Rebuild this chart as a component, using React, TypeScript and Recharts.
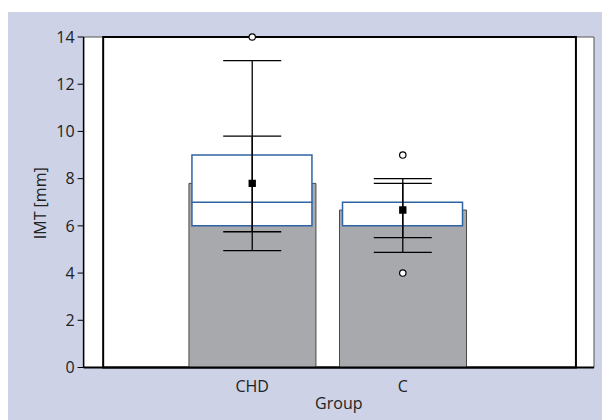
import React from 'react';
import {
  ComposedChart,
  Bar,
  Scatter,
  ErrorBar,
  XAxis,
  YAxis,
  ZAxis,
  ReferenceArea,
  CartesianGrid,
} from 'recharts';

const categories = ['CHD', 'C'];
const means = [7.8, 6.67];
const q1 = [6, 6];
const medians = [7, 7];
const q3 = [9, 7];
const whiskerLow = [4.95, 4.88];
const whiskerHigh = [13.0, 8.0];
const ciLow = [5.75, 5.5];
const ciHigh = [9.8, 7.8];
const outlierGroups = ['CHD', 'C', 'C'];
const outlierValues = [14, 9, 4];
const yTicks = [0, 2, 4, 6, 8, 10, 12, 14];

const X_DOMAIN: [number, number] = [-0.12, 3.27];
const FRAME_X: [number, number] = [0.01, 3.15];

const data = categories.map((c, i) => ({
  x: i + 1,
  name: c,
  mean: means[i],
  boxBase: q1[i],
  boxLower: medians[i] - q1[i],
  boxUpper: q3[i] - medians[i],
  whisker: [means[i] - whiskerLow[i], whiskerHigh[i] - means[i]],
  ci: [means[i] - ciLow[i], ciHigh[i] - means[i]],
}));

const outliers = outlierValues.map((v, i) => ({
  x: categories.indexOf(outlierGroups[i]) + 1,
  y: v,
}));

const FONT = "'Open Sans', 'Noto Sans', sans-serif";
const BOX_BLUE = '#2f64a3';

const YLabel = (props: any) => {
  const vb = props.viewBox || {};
  const cx = vb.x + 32;
  const cy = vb.y + vb.height / 2 + 1;
  return (
    <text
      x={cx}
      y={cy}
      transform={`rotate(-90 ${cx} ${cy})`}
      textAnchor="middle"
      dominantBaseline="central"
      fontFamily={FONT}
      fontSize={16}
      fill="#222"
    >
      IMT [mm]
    </text>
  );
};

const XLabel = (props: any) => {
  const vb = props.viewBox || {};
  const cx = vb.x + vb.width / 2;
  const cy = vb.y + 41.5;
  return (
    <text x={cx} y={cy} textAnchor="middle" fontFamily={FONT} fontSize={16} fill="#222">
      Group
    </text>
  );
};

const OutlierDot = (props: any) => {
  const { cx, cy } = props;
  if (cx == null || cy == null) return null;
  return <circle cx={cx} cy={cy} r={3.2} fill="#fff" stroke="#000" strokeWidth={1.2} />;
};

export default function App() {
  return (
    <div style={{ marginTop: 4, width: 602, height: 408, background: '#cdd2e6' }}>
      <ComposedChart
        width={602}
        height={408}
        data={data}
        margin={{ top: 25, right: 16, bottom: 0, left: 0 }}
      >
        <CartesianGrid fill="#ffffff" stroke="none" horizontal={false} vertical={false} />
        <XAxis
          dataKey="x"
          type="number"
          domain={X_DOMAIN}
          allowDataOverflow
          ticks={[1, 2]}
          tickFormatter={(v: number) => categories[v - 1] ?? ''}
          tickLine={false}
          tickSize={6}
          tickMargin={7}
          axisLine={{ stroke: '#000', strokeWidth: 2 }}
          tick={{ fontFamily: FONT, fontSize: 16, fill: '#222' }}
          height={52.5}
          label={<XLabel />}
        />
        <XAxis
          xAxisId="box"
          dataKey="x"
          type="number"
          domain={X_DOMAIN}
          allowDataOverflow
          hide
        />
        <YAxis
          type="number"
          domain={[0, 14]}
          ticks={yTicks}
          width={75.6}
          tickSize={6}
          tickMargin={3}
          axisLine={{ stroke: '#000', strokeWidth: 1.5 }}
          tickLine={{ stroke: '#000', strokeWidth: 1 }}
          tick={{ fontFamily: FONT, fontSize: 16, fill: '#222' }}
          label={<YLabel />}
        />
        <ZAxis range={[54, 54]} />
        <Bar
          dataKey="mean"
          barSize={127}
          fill="#a8a9ad"
          stroke="#4a4a4a"
          strokeWidth={1}
          isAnimationActive={false}
        />
        <Bar
          xAxisId="box"
          dataKey="boxBase"
          stackId="box"
          barSize={120}
          fill="none"
          stroke="none"
          isAnimationActive={false}
        />
        <Bar
          xAxisId="box"
          dataKey="boxLower"
          stackId="box"
          barSize={120}
          fill="#ffffff"
          stroke={BOX_BLUE}
          strokeWidth={1.5}
          isAnimationActive={false}
        />
        <Bar
          xAxisId="box"
          dataKey="boxUpper"
          stackId="box"
          barSize={120}
          fill="#ffffff"
          stroke={BOX_BLUE}
          strokeWidth={1.5}
          isAnimationActive={false}
        />
        <ReferenceArea
          x1={X_DOMAIN[0]}
          x2={X_DOMAIN[1]}
          y1={0}
          y2={14}
          fill="none"
          stroke="#555"
          strokeWidth={1}
          ifOverflow="visible"
        />
        <ReferenceArea
          x1={FRAME_X[0]}
          x2={FRAME_X[1]}
          y1={0}
          y2={14}
          fill="none"
          stroke="#000"
          strokeWidth={2}
          ifOverflow="visible"
        />
        <Scatter dataKey="mean" shape="square" fill="#000" isAnimationActive={false}>
          <ErrorBar dataKey="whisker" direction="y" width={29} stroke="#000" strokeWidth={1.3} />
          <ErrorBar dataKey="ci" direction="y" width={29} stroke="#000" strokeWidth={1.3} />
        </Scatter>
        <Scatter data={outliers} dataKey="y" shape={<OutlierDot />} isAnimationActive={false} />
      </ComposedChart>
    </div>
  );
}
